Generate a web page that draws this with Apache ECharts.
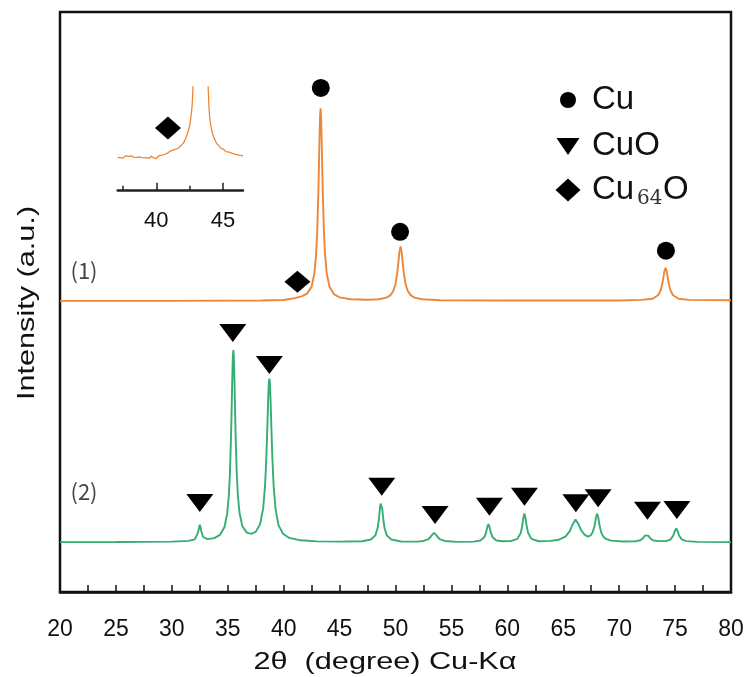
<!DOCTYPE html>
<html><head><meta charset="utf-8">
<script src="https://cdn.jsdelivr.net/npm/echarts@6/dist/echarts.min.js"></script>
<style>html,body{margin:0;padding:0;background:#fff}#c{width:747px;height:677px}</style>
</head><body><div id="c"></div>
<script>
// x tick labels (2θ)
const xLabels = [20,25,30,35,40,45,50,55,60,65,70,75,80];
const insetLabels = [40,45];
const insetMinorTicks = [37.5,42.5];
// pattern (1) [2θ, intensity a.u.]
const pattern1 = [[20,50.2],[30,50.2],[38,50.25],[40,50.35],[41,50.66],[41.6,50.97],[42.1,51.45],[42.5,52.65],[42.75,54.96],[42.9,58.18],[43.0,62.1],[43.1,68.7],[43.15,73.2],[43.2,77.9],[43.25,81.8],[43.3,83.4],[43.35,81.8],[43.4,77.9],[43.45,73.2],[43.5,68.7],[43.6,62.1],[43.7,58.18],[43.85,54.96],[44.1,52.63],[44.5,51.33],[45.0,50.8],[46.0,50.47],[47.5,50.4],[48.5,50.48],[49.2,50.76],[49.55,51.18],[49.8,51.89],[50.0,53.1],[50.15,54.9],[50.25,56.7],[50.35,58.64],[50.45,59.58],[50.55,58.64],[50.65,56.7],[50.75,54.9],[50.9,53.1],[51.1,51.89],[51.35,51.18],[51.7,50.76],[52.4,50.48],[54,50.3],[60,50.25],[70,50.25],[72,50.36],[73.0,50.56],[73.5,51.2],[73.7,51.95],[73.85,53.05],[73.95,54.15],[74.05,55.33],[74.15,55.9],[74.25,55.33],[74.35,54.15],[74.45,53.05],[74.6,51.95],[74.8,51.2],[75.3,50.56],[76.3,50.36],[80,50.3]];
// pattern (2)
const pattern2 = [[20,8.6],[25,8.62],[30,8.68],[31.5,8.81],[32.05,9.08],[32.2,9.39],[32.35,10.29],[32.44,11.15],[32.5,11.6],[32.56,11.2],[32.65,10.4],[32.8,9.48],[33.2,9.11],[33.8,9.29],[34.3,9.84],[34.7,11.16],[34.95,13.5],[35.1,16.72],[35.2,20.67],[35.3,27.27],[35.35,31.7],[35.4,36.4],[35.45,40.3],[35.5,41.7],[35.55,40.36],[35.6,36.4],[35.65,31.7],[35.7,27.3],[35.8,20.7],[35.9,16.8],[36.05,13.65],[36.3,11.39],[36.7,10.24],[37.1,10.03],[37.5,10.37],[37.9,11.73],[38.17,14.45],[38.34,18.46],[38.45,23.1],[38.55,29.1],[38.62,33.6],[38.67,36.0],[38.72,36.8],[38.77,36.0],[38.82,33.6],[38.89,29.1],[38.99,23.05],[39.1,18.4],[39.27,14.35],[39.54,11.54],[39.94,10.04],[40.5,9.32],[41.5,8.91],[43,8.73],[45,8.68],[47,8.75],[47.8,9.05],[48.2,9.76],[48.4,11.02],[48.51,12.5],[48.61,14.42],[48.66,15.25],[48.71,15.57],[48.76,15.25],[48.81,14.42],[48.91,12.5],[49.02,11.02],[49.22,9.76],[49.62,9.05],[50.5,8.71],[52,8.68],[52.5,8.8],[52.9,9.06],[53.1,9.4],[53.25,9.8],[53.35,10.08],[53.45,10.2],[53.55,10.08],[53.65,9.8],[53.8,9.4],[54.0,9.06],[54.4,8.8],[55.5,8.65],[57.0,8.69],[57.6,8.88],[57.95,9.47],[58.11,10.33],[58.21,11.19],[58.31,11.7],[58.41,11.19],[58.51,10.33],[58.67,9.47],[59.02,8.88],[59.6,8.76],[60.3,8.78],[60.9,9.16],[61.2,10.17],[61.33,11.37],[61.43,12.73],[61.53,13.55],[61.63,12.73],[61.73,11.37],[61.86,10.17],[62.16,9.16],[62.8,8.75],[63.8,8.82],[64.5,8.96],[65.2,9.54],[65.6,10.55],[65.85,11.7],[66.1,12.48],[66.35,11.74],[66.6,10.64],[66.9,9.89],[67.2,9.55],[67.45,9.75],[67.65,10.37],[67.8,11.42],[67.93,12.88],[68.03,13.51],[68.13,12.84],[68.26,11.32],[68.41,10.19],[68.61,9.47],[68.86,9.11],[69.3,8.86],[70.3,8.7],[71.4,8.72],[71.9,8.92],[72.15,9.3],[72.3,9.72],[72.45,10.0],[72.6,9.72],[72.75,9.3],[73.0,8.92],[73.5,8.78],[74.2,8.77],[74.6,9.08],[74.83,9.7],[74.97,10.47],[75.1,10.98],[75.23,10.47],[75.37,9.7],[75.6,9.08],[76.0,8.77],[77,8.65],[80,8.6]];
// inset: pattern (1) magnified around 37–46.5°
const insetPattern = [[37.10,32.0],[37.15,33.1],[37.20,33.6],[37.25,32.4],[37.30,31.8],[37.35,32.9],[37.40,33.3],[37.45,32.2],[37.50,31.5],[37.55,32.6],[37.60,33.4],[37.65,32.9],[37.70,33.8],[37.75,32.5],[37.80,31.9],[37.85,32.8],[37.90,33.2],[37.95,32.0],[38.00,31.6],[38.05,32.7],[38.10,33.5],[38.15,32.3],[38.20,32.8],[38.25,33.6],[38.30,32.4],[38.35,31.7],[38.40,32.5],[38.45,33.2],[38.50,32.1],[38.55,31.6],[38.60,32.9],[38.65,33.4],[38.70,32.6],[38.75,31.9],[38.80,32.8],[38.85,33.1],[38.90,31.8],[38.95,32.5],[39.00,33.3],[39.05,32.2],[39.10,31.7],[39.15,32.9],[39.20,33.5],[39.25,32.4],[39.30,31.9],[39.35,33.0],[39.40,32.6],[39.45,31.8],[39.50,31.3],[39.55,32.7],[39.60,33.4],[39.65,32.5],[39.70,33.1],[39.75,32.0],[39.80,31.6],[39.85,32.3],[39.90,31.2],[39.95,30.4],[40.00,31.0],[40.05,29.8],[40.10,31.5],[40.15,32.8],[40.20,33.9],[40.25,33.2],[40.30,34.6],[40.35,33.8],[40.40,34.3],[40.45,35.4],[40.50,34.7],[40.55,35.8],[40.60,34.9],[40.65,36.1],[40.70,35.5],[40.75,36.6],[40.80,35.9],[40.85,37.2],[40.90,36.5],[40.95,37.4],[41.00,37.9],[41.05,37.1],[41.10,38.3],[41.15,37.8],[41.20,38.9],[41.25,38.4],[41.30,39.5],[41.35,39.0],[41.40,39.8],[41.45,40.4],[41.50,40.0],[41.55,41.0],[41.60,40.7],[41.65,41.6],[41.70,41.9],[41.75,42.3],[41.80,42.9],[41.85,43.4],[41.90,44.0],[41.95,44.8],[42.00,45.6],[42.05,46.5],[42.10,47.6],[42.15,48.9],[42.20,50.4],[42.25,52.0],[42.30,53.9],[42.35,55.8],[42.40,58.0],[42.45,60.5],[42.50,63.2],[42.55,67.0],[42.60,72.0],[42.65,77.5],[42.70,85.0],[42.75,100],[42.80,115],[43.30,300],[43.85,115],[43.90,95],[43.95,80],[44.00,71],[44.05,66],[44.10,62],[44.15,58.5],[44.20,56],[44.25,53.5],[44.30,52.4],[44.35,50.2],[44.40,49.5],[44.45,47.4],[44.50,46.6],[44.55,45.2],[44.60,45.9],[44.65,43.8],[44.70,43.2],[44.75,42.0],[44.80,42.7],[44.85,40.8],[44.90,40.3],[44.95,39.2],[45.00,39.0],[45.05,40.1],[45.10,38.4],[45.15,38.9],[45.20,37.6],[45.25,38.6],[45.30,37.2],[45.35,36.4],[45.40,37.5],[45.45,36.2],[45.50,37.0],[45.55,35.6],[45.60,36.5],[45.65,35.2],[45.70,36.3],[45.75,34.9],[45.80,35.5],[45.85,34.4],[45.90,35.8],[45.95,34.0],[46.00,34.9],[46.05,33.6],[46.10,35.0],[46.15,33.4],[46.20,34.3],[46.25,33.0],[46.30,34.6],[46.35,33.2],[46.40,33.9],[46.45,32.8],[46.50,33.6]];
// phase markers
const cuMarks = [[43.32,86.9],[50.41,62.1],[74.18,58.84]];
const cuoMarks = [[32.5,15.34],[35.45,44.66],[38.72,39.14],[48.77,18.16],[53.54,13.28],[58.4,14.71],[61.53,16.43],[66.13,15.29],[68.12,16.16],[72.53,14.02],[75.16,14.14]];
const cu64oMarks = [[41.23,53.5]];
const cu64oInsetMarks = [[40.87,60.5]];
const legendNames = ['Cu','CuO','Cu','64','O'];

const ORANGE = '#EC8738', GREEN = '#35AE74', INK = '#111';
const F = 'Liberation Sans, Arial, sans-serif';
const MARK = {color:'#000', opacity:1};
const chart = echarts.init(document.getElementById('c'), null, {renderer:'canvas'});
const option = {
  animation: false,
  backgroundColor: '#fff',
  grid: [
    {left:60, top:12, width:671, height:580, show:true, borderColor:INK, borderWidth:2.5},
    {left:117.7, top:87, width:125.3, height:103.7}
  ],
  xAxis: [
    {gridIndex:0, type:'value', min:20, max:80, interval:2.5,
     axisLine:{show:true, lineStyle:{color:INK, width:2.5}},
     axisTick:{show:true, inside:true, length:7, lineStyle:{color:INK, width:1.5}},
     axisLabel:{customValues:xLabels, fontSize:23, margin:26, color:INK, fontFamily:F},
     splitLine:{show:false}},
    {gridIndex:1, type:'value', min:37.1, max:46.5, position:'bottom',
     axisLine:{show:true, lineStyle:{color:'#222', width:2.5}},
     axisTick:{show:true, inside:true, length:8, customValues:insetLabels, lineStyle:{color:'#222', width:1.5}},
     axisLabel:{customValues:insetLabels, fontSize:22, margin:19, color:INK, fontFamily:F},
     splitLine:{show:false}},
    {gridIndex:1, type:'value', min:37.1, max:46.5, position:'bottom', offset:0,
     axisLine:{show:false},
     axisTick:{show:true, inside:true, length:5, customValues:insetMinorTicks, lineStyle:{color:'#222', width:1.5}},
     axisLabel:{show:false}, splitLine:{show:false}}
  ],
  yAxis: [
    {gridIndex:0, type:'value', min:0, max:100, show:false},
    {gridIndex:1, type:'value', min:0, max:100, show:false}
  ],
  series: [
    {type:'line', xAxisIndex:0, yAxisIndex:0, data:pattern1, showSymbol:false, symbol:'none',
     lineStyle:{color:ORANGE, width:1.9}, itemStyle:{color:ORANGE}},
    {type:'line', xAxisIndex:0, yAxisIndex:0, data:pattern2, showSymbol:false, symbol:'none',
     lineStyle:{color:GREEN, width:1.9}, itemStyle:{color:GREEN}},
    {type:'line', xAxisIndex:1, yAxisIndex:1, data:insetPattern, showSymbol:false, symbol:'none', clip:true,
     lineStyle:{color:ORANGE, width:1.3}, itemStyle:{color:ORANGE}},
    {type:'scatter', xAxisIndex:0, yAxisIndex:0, data:cuMarks, symbol:'circle', symbolSize:18, itemStyle:MARK},
    {type:'scatter', xAxisIndex:0, yAxisIndex:0, data:cuoMarks, symbol:'triangle', symbolRotate:180, symbolSize:[27,18], itemStyle:MARK},
    {type:'scatter', xAxisIndex:0, yAxisIndex:0, data:cu64oMarks, symbol:'diamond', symbolSize:[26,22], itemStyle:MARK},
    {type:'scatter', xAxisIndex:1, yAxisIndex:1, data:cu64oInsetMarks, symbol:'diamond', symbolSize:[26,23], itemStyle:MARK}
  ],
  graphic: [
    {type:'text', x:385, y:662, scaleX:1.277, style:{text:'2θ  (degree) Cu-Kα', fontSize:24, fontFamily:F, fill:INK, align:'center', verticalAlign:'middle'}},
    {type:'text', x:27, y:303, rotation:Math.PI/2, scaleX:1.277, style:{text:'Intensity (a.u.)', fontSize:24, fontFamily:F, fill:INK, align:'center', verticalAlign:'middle'}},
    {type:'text', x:84, y:271, style:{text:'(1)', fontSize:22, fontFamily:'Noto Sans CJK JP', fill:'#444', align:'center', verticalAlign:'middle'}},
    {type:'text', x:84, y:492, style:{text:'(2)', fontSize:22, fontFamily:'Noto Sans CJK JP', fill:'#444', align:'center', verticalAlign:'middle'}},
    {type:'circle', shape:{cx:568, cy:100, r:8}, style:{fill:'#000'}},
    {type:'polygon', shape:{points:[[556.5,138],[579.5,138],[568,155]]}, style:{fill:'#000'}},
    {type:'polygon', shape:{points:[[568,178.5],[580.5,190],[568,201.5],[555.5,190]]}, style:{fill:'#000'}},
    {type:'text', x:592, y:100, style:{text:legendNames[0], fontSize:33, fontFamily:F, fill:INK, align:'left', verticalAlign:'middle'}},
    {type:'text', x:592, y:146, style:{text:legendNames[1], fontSize:33, fontFamily:F, fill:INK, align:'left', verticalAlign:'middle'}},
    {type:'text', x:592, y:190, style:{text:legendNames[2], fontSize:33, fontFamily:F, fill:INK, align:'left', verticalAlign:'middle'}},
    {type:'text', x:637, y:199, style:{text:legendNames[3], fontSize:20, fontFamily:'DejaVu Serif', fill:'#333', align:'left', verticalAlign:'middle'}},
    {type:'text', x:663, y:190, style:{text:legendNames[4], fontSize:33, fontFamily:F, fill:INK, align:'left', verticalAlign:'middle'}}
  ]
};
chart.setOption(option);
</script></body></html>
